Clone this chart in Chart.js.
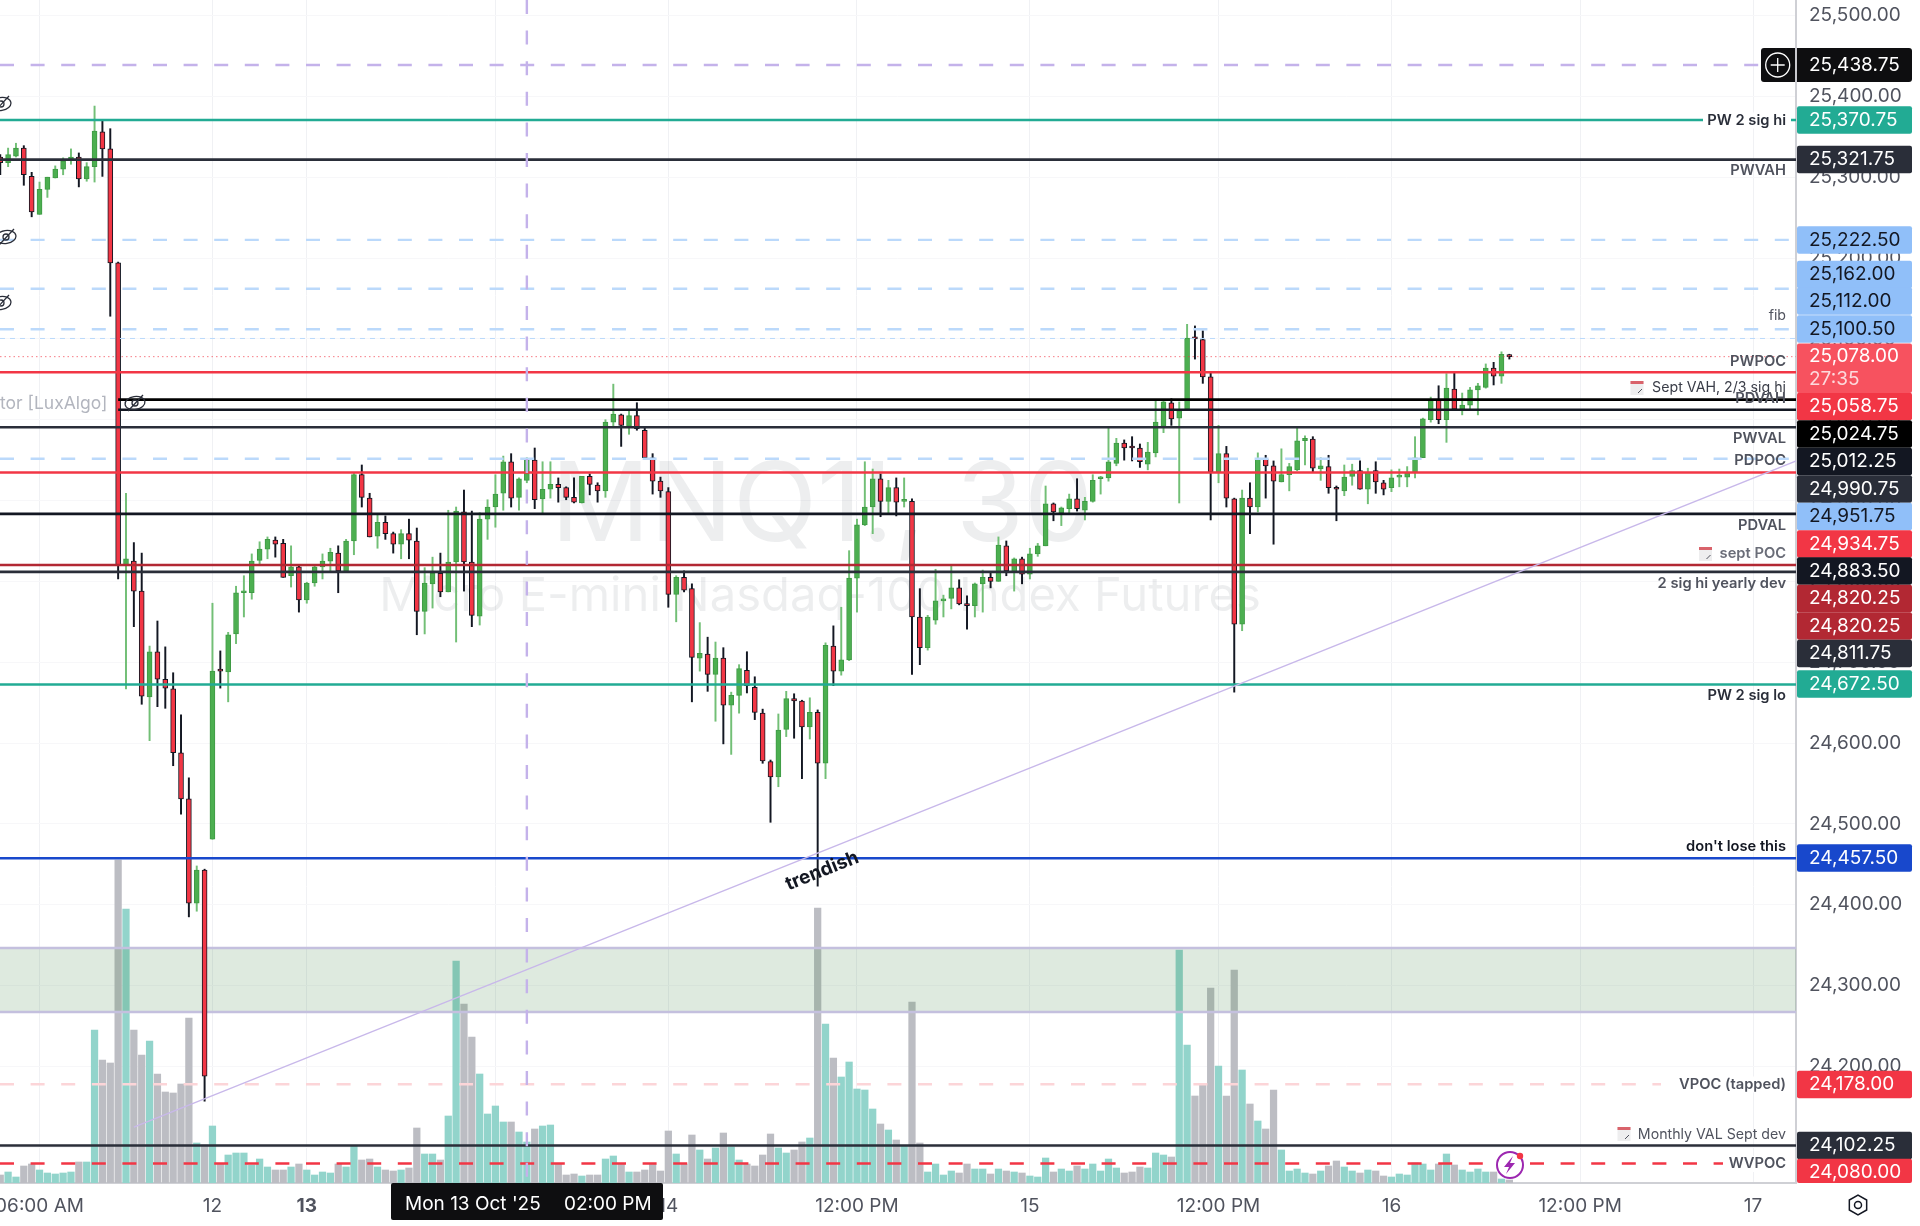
<!DOCTYPE html>
<html>
<head>
<meta charset="utf-8">
<title>MNQ1!, 30</title>
<script src="https://cdn.jsdelivr.net/npm/chart.js@4/dist/chart.umd.min.js"></script>
<style>
    html, body { margin: 0; padding: 0; background: #fff; }
    #wrap { width: 1920px; height: 1226px; }
</style>
</head>
<body>
<div id="wrap"><canvas id="myChart" width="1920" height="1226"></canvas></div>
<script>
// 30 minute bars
const highs = [
    25328,25336,25342,25339,25306,25294,25300,25314,25324,25335,
    25330,25318,25388,25370,25360,25195,24909,24848,24835,24720,
    24751,24719,24687,24635,24557,24448,24444,24773,24714,24737,
    24794,24807,24834,24849,24855,24855,24852,24844,24819,24799,
    24819,24834,24841,24844,24852,24934,24944,24909,24882,24881,
    24861,24864,24877,24866,24817,24830,24835,24888,24892,24913,
    24887,24885,24901,24932,24955,24958,24928,24953,24965,24948,
    24948,24928,24917,24928,24930,24933,24922,25000,25044,25007,
    25011,25021,24990,24958,24929,24916,24807,24813,24797,24749,
    24731,24725,24718,24663,24697,24713,24682,24642,24579,24636,
    24664,24661,24653,24656,24641,24724,24745,24768,24838,24877,
    24948,24939,24933,24925,24928,24928,24902,24791,24758,24815,
    24783,24819,24802,24782,24798,24814,24810,24855,24850,24829,
    24830,24841,24847,24918,24897,24892,24908,24927,24904,24932,
    24930,24990,24977,24975,24979,24970,24972,25024,25024,25026,
    25022,25118,25116,25110,25058,24993,24967,24903,24913,24922,
    24959,24956,24949,24964,24946,24990,24980,24979,24953,24956,
    24918,24944,24945,24949,24940,24948,24925,24938,24939,24942,
    24979,25002,25028,25042,25057,25058,25033,25040,25045,25069,
    25071,25084,25081,
];
const lows = [
    25303,25313,25325,25290,25251,25254,25275,25299,25303,25316,
    25288,25295,25294,25301,25128,24803,24667,24744,24648,24603,
    24645,24643,24572,24512,24385,24392,24157,24481,24668,24651,
    24723,24756,24778,24821,24828,24830,24805,24793,24762,24773,
    24794,24803,24813,24786,24812,24833,24892,24855,24841,24852,
    24835,24828,24828,24734,24735,24767,24781,24787,24725,24788,
    24744,24746,24852,24867,24888,24892,24888,24922,24890,24883,
    24903,24898,24901,24897,24897,24907,24898,24904,24992,24967,
    24982,24987,24951,24908,24904,24768,24750,24787,24651,24689,
    24664,24627,24599,24586,24637,24662,24629,24575,24502,24546,
    24608,24606,24556,24605,24423,24556,24671,24684,24702,24762,
    24869,24859,24880,24885,24881,24892,24685,24697,24715,24747,
    24756,24766,24771,24741,24756,24762,24792,24800,24807,24788,
    24797,24803,24831,24844,24875,24869,24885,24887,24876,24898,
    24908,24924,24943,24950,24949,24941,24938,24954,24984,24993,
    24897,25013,25075,25045,24876,24922,24892,24663,24739,24859,
    24886,24903,24846,24923,24912,24937,24944,24935,24925,24909,
    24875,24906,24919,24914,24896,24909,24907,24911,24917,24917,
    24928,24953,24997,24995,24972,25013,25006,25012,25006,25039,
    25043,25045,25075,
];
const opens = [
    25325,25318,25326,25336,25301,25254,25285,25299,25310,25321,
    25325,25298,25313,25356,25335,25194,24820,24825,24788,24657,
    24713,24679,24667,24588,24531,24402,24443,24481,24690,24688,
    24735,24786,24786,24826,24840,24851,24847,24807,24818,24777,
    24798,24818,24825,24835,24813,24850,24932,24903,24856,24873,
    24859,24846,24859,24850,24763,24797,24810,24787,24824,24886,
    24824,24757,24877,24892,24909,24948,24904,24925,24950,24902,
    24914,24920,24916,24904,24897,24930,24919,24912,24997,25006,
    24992,25005,24987,24953,24924,24911,24784,24805,24791,24705,
    24710,24685,24705,24647,24659,24690,24669,24637,24577,24558,
    24617,24655,24652,24620,24638,24575,24720,24689,24703,24804,
    24870,24892,24927,24899,24916,24899,24899,24756,24718,24752,
    24776,24779,24792,24772,24770,24797,24805,24800,24844,24812,
    24828,24809,24834,24844,24896,24885,24890,24902,24888,24899,
    24927,24928,24946,24971,24966,24965,24945,24959,24992,25021,
    25002,25013,25101,25099,25053,24935,24958,24902,24747,24903,
    24892,24951,24943,24923,24932,24938,24974,24976,24939,24942,
    24916,24912,24930,24937,24914,24937,24922,24916,24929,24929,
    24935,24953,25000,25024,25000,25038,25013,25018,25037,25040,
    25064,25054,25080,
];
const closes = [
    25318,25328,25336,25303,25257,25285,25300,25310,25320,25325,
    25298,25313,25357,25335,25194,24820,24828,24788,24658,24713,
    24679,24668,24588,24531,24402,24443,24188,24689,24689,24734,
    24786,24788,24825,24840,24852,24846,24805,24818,24777,24798,
    24818,24825,24836,24813,24850,24932,24904,24855,24873,24859,
    24846,24859,24851,24763,24798,24810,24787,24824,24887,24824,
    24758,24877,24892,24908,24948,24903,24927,24950,24901,24914,
    24920,24916,24904,24898,24930,24920,24912,24997,25007,24993,
    25005,24989,24953,24924,24912,24784,24805,24789,24706,24711,
    24685,24705,24647,24659,24692,24671,24638,24578,24558,24616,
    24655,24652,24620,24638,24575,24721,24689,24703,24804,24870,
    24892,24927,24899,24916,24898,24901,24756,24718,24756,24776,
    24777,24792,24772,24770,24797,24805,24800,24845,24813,24828,
    24809,24834,24844,24896,24886,24891,24902,24890,24899,24925,
    24928,24948,24971,24965,24965,24948,24960,24997,25022,25001,
    25011,25101,25100,25053,24935,24958,24903,24747,24903,24892,
    24951,24943,24924,24932,24942,24974,24977,24940,24943,24916,
    24914,24929,24937,24914,24935,24923,24914,24928,24930,24934,
    24953,25001,25024,25000,25039,25013,25018,25037,25042,25064,
    25054,25081,25078,
];
const volumes = [
    8,11,6,17,19,13,10,9,10,11,
    21,21,153,123,120,323,274,153,128,142,
    109,91,90,99,165,40,38,57,19,28,
    30,30,18,24,16,13,13,16,19,13,
    8,11,10,19,16,37,23,24,16,13,
    12,13,15,55,29,29,23,67,222,179,
    146,109,69,77,61,61,51,41,54,57,
    58,19,8,9,7,8,8,24,27,19,
    11,11,13,19,12,52,29,19,48,33,
    24,35,50,36,23,19,17,28,49,35,
    30,33,41,45,275,159,125,106,121,94,
    93,74,59,53,43,37,181,40,11,19,
    8,12,10,19,14,14,9,14,12,11,
    10,7,6,25,11,14,12,17,14,19,
    12,24,15,10,11,16,15,30,28,26,
    233,138,87,99,195,117,87,213,113,79,
    62,54,93,33,12,14,10,9,12,17,
    22,16,12,10,13,12,7,6,9,8,
    20,19,13,19,29,18,13,11,14,11,
    11,4,3,
];
const volumeAxisMax = 1183;

// time axis, bar index of each labelled gridline
const xTickIndex = [5, 27, 39, 63, 85, 109, 131, 155, 177, 201, 223];
const xTickLabels = ["06:00 AM", "12", "13", "12:00 PM", "14", "12:00 PM", "15", "12:00 PM", "16", "12:00 PM", "17"];
const crossIndex = 67;
const crossPrice = 25438.75;

// price levels
const levelValues = [25370.75, 25321.75, 25222.5, 25162, 25112, 25100.5, 25078, 25058.75, 25024.75, 25012.25, 24990.75, 24951.75, 24934.75, 24883.5, 24820.25, 24811.75, 24672.5, 24457.5, 24178, 24102.25, 24080];
const levelKinds = ["teal", "slate", "fibA", "fibA", "fibA", "fibB", "last", "red", "black", "ink", "slate", "fibA", "red", "ink", "wine", "slate", "teal", "blue", "pink", "slate", "redDash"];
// these two only start at the big sell-off bar
const lateLevels = [25024.75, 25012.25];
const lateStart = 15;
const zoneTop = 24346.5;
const zoneBottom = 24267.4;
const trendFrom = [17, 24125];
const trendTo = [228.5, 24949];

const priceMin = 24055.8;
const priceMax = 25519.2;
const xMin = -0.03;
const xMax = 228.47;

const kinds = {
    teal: { color: "#22ab94", width: 2.6 },
    slate: { color: "#2a2e39", width: 2.6 },
    ink: { color: "#131722", width: 2.6 },
    black: { color: "#000000", width: 2.8 },
    red: { color: "#f23645", width: 2.6 },
    wine: { color: "#b22833", width: 2.6 },
    blue: { color: "#1848cc", width: 2.6 },
    fibA: { color: "#bbd9fb", width: 2.4, dash: [14, 16.6] },
    fibB: { color: "#bbd9fb", width: 1, dash: [5, 5] },
    last: { color: "rgba(242,54,69,0.65)", width: 1, dash: [1.5, 3] },
    pink: { color: "#fcd5d8", width: 2.4, dash: [14, 16.6] },
    redDash: { color: "#f23645", width: 2.4, dash: [14, 16.6] },
};

const UI_FONT = "Inter, 'Liberation Sans', sans-serif";
const barIndex = closes.map((c, i) => i);
const isUp = closes.map((c, i) => c >= opens[i]);

function lineSet(points, color, width, dash, order, extra) {
    return Object.assign({
        type: "line",
        data: points,
        borderColor: color,
        borderWidth: width,
        borderDash: dash || [],
        pointRadius: 0,
        fill: false,
        tension: 0,
        order: order,
    }, extra || {});
}

const datasets = [];

// volume pane
datasets.push({
    yAxisID: "vol",
    data: barIndex.map((i) => ({ x: i, y: volumes[i] })),
    backgroundColor: isUp.map((u) => (u ? "#92d4cb" : "#bcbdc3")),
    barThickness: 6.6,
    grouped: false,
    order: 20,
});

// green zone with its two edges
datasets.push(lineSet([{ x: xMin, y: zoneTop }, { x: xMax, y: zoneTop }], "#c4c0de", 2.4, null, 19, {
    fill: "+1",
    backgroundColor: "rgba(70,140,80,0.18)",
}));
datasets.push(lineSet([{ x: xMin, y: zoneBottom }, { x: xMax, y: zoneBottom }], "#c4c0de", 2.4, null, 18));

// candles: wick under body
datasets.push({
    data: barIndex.map((i) => ({ x: i, y: [lows[i], highs[i]] })),
    backgroundColor: isUp.map((u) => (u ? "#72bf76" : "#131722")),
    barThickness: 1.3,
    grouped: false,
    order: 8,
});
datasets.push({
    data: barIndex.map((i) => ({ x: i, y: [opens[i], closes[i]] })),
    backgroundColor: isUp.map((u) => (u ? "#4caf50" : "#f23645")),
    borderColor: isUp.map((u) => (u ? "#3f9a45" : "#131722")),
    borderWidth: 1,
    borderSkipped: false,
    barThickness: 5,
    minBarLength: 2,
    grouped: false,
    order: 7,
});

// levels sit on top of the candles
levelValues.forEach((v, n) => {
    const k = kinds[levelKinds[n]];
    const from = lateLevels.includes(v) ? lateStart : xMin;
    datasets.push(lineSet([{ x: from, y: v }, { x: xMax, y: v }], k.color, k.width, k.dash, 3));
});
datasets.push(lineSet([{ x: trendFrom[0], y: trendFrom[1] }, { x: trendTo[0], y: trendTo[1] }], "#c8b8ea", 1.3, null, 2));
datasets.push(lineSet([{ x: xMin, y: crossPrice }, { x: xMax, y: crossPrice }], "#c4b2ea", 2.4, [14, 16.6], 1));
datasets.push(lineSet([{ x: crossIndex, y: priceMax }, { x: crossIndex, y: priceMin }], "#c4b2ea", 2.4, [14, 16.6], 1));

// texts at the right end of the levels
const notes = [
    { text: "PW 2 sig hi", y: 120.5, weight: 600, color: "#2a2e39", clear: 1703 },
    { text: "PWVAH", y: 171, weight: 600, color: "#50535e" },
    { text: "fib", y: 316, weight: 400, color: "#50535e" },
    { text: "PWPOC", y: 361.5, weight: 600, color: "#50535e" },
    { text: "Sept VAH, 2/3 sig hi", y: 388, weight: 400, color: "#3a3d48" },
    { text: "PDVAH", y: 399, weight: 600, color: "#50535e" },
    { text: "PWVAL", y: 439, weight: 600, color: "#50535e" },
    { text: "PDPOC", y: 461, weight: 600, color: "#50535e" },
    { text: "PDVAL", y: 525.5, weight: 600, color: "#50535e" },
    { text: "sept POC", y: 554, weight: 600, color: "#6a6d78" },
    { text: "2 sig hi yearly dev", y: 584, weight: 600, color: "#50535e" },
    { text: "PW 2 sig lo", y: 696, weight: 600, color: "#2a2e39" },
    { text: "don't lose this", y: 847, weight: 600, color: "#131722" },
    { text: "VPOC (tapped)", y: 1084.5, weight: 600, color: "#50535e", clear: 1661 },
    { text: "Monthly VAL Sept dev", y: 1135, weight: 400, color: "#50535e" },
    { text: "WVPOC", y: 1164, weight: 600, color: "#50535e", clear: 1723 },
];

// price tags on the axis, stacked so they do not collide
const tags = [
    { text: "25,370.75", y: 120, fill: "#22ab94", ink: "#ffffff" },
    { text: "25,321.75", y: 159.5, fill: "#2a2e39", ink: "#ffffff" },
    { text: "25,222.50", y: 240, fill: "#90bff9", ink: "#131722" },
    { text: "25,162.00", y: 274.5, fill: "#90bff9", ink: "#131722" },
    { text: "25,112.00", y: 301, fill: "#90bff9", ink: "#131722" },
    { text: "25,100.50", y: 329, fill: "#90bff9", ink: "#131722" },
    { text: "25,058.75", y: 406.5, fill: "#f23645", ink: "#ffffff" },
    { text: "25,024.75", y: 434, fill: "#000000", ink: "#ffffff" },
    { text: "25,012.25", y: 461.5, fill: "#131722", ink: "#ffffff" },
    { text: "24,990.75", y: 489, fill: "#2a2e39", ink: "#ffffff" },
    { text: "24,951.75", y: 516.5, fill: "#90bff9", ink: "#131722" },
    { text: "24,934.75", y: 544, fill: "#f23645", ink: "#ffffff" },
    { text: "24,883.50", y: 571, fill: "#131722", ink: "#ffffff" },
    { text: "24,820.25", y: 598.5, fill: "#b22833", ink: "#ffffff" },
    { text: "24,820.25", y: 626, fill: "#b22833", ink: "#ffffff" },
    { text: "24,811.75", y: 653.5, fill: "#2a2e39", ink: "#ffffff" },
    { text: "24,672.50", y: 684, fill: "#22ab94", ink: "#ffffff" },
    { text: "24,457.50", y: 858, fill: "#1848cc", ink: "#ffffff" },
    { text: "24,178.00", y: 1084.5, fill: "#f23645", ink: "#ffffff" },
    { text: "24,102.25", y: 1145.5, fill: "#2a2e39", ink: "#ffffff" },
    { text: "24,080.00", y: 1172.5, fill: "#f23645", ink: "#ffffff" },
];

function roundBox(ctx, x, y, w, h, r, fill) {
    ctx.beginPath();
    ctx.roundRect(x, y, w, h, r);
    ctx.fillStyle = fill;
    ctx.fill();
}

function hiddenEye(ctx, x, y) {
    ctx.save();
    ctx.strokeStyle = "#2a2e39";
    ctx.lineWidth = 1.3;
    ctx.beginPath();
    ctx.ellipse(x, y, 10, 6.5, -0.15, 0, Math.PI * 2);
    ctx.stroke();
    ctx.beginPath();
    ctx.arc(x, y, 3, 0, Math.PI * 2);
    ctx.stroke();
    ctx.beginPath();
    ctx.moveTo(x - 7, y + 8);
    ctx.lineTo(x + 8, y - 8);
    ctx.stroke();
    ctx.restore();
}

function calendar(ctx, x, y) {
    ctx.fillStyle = "#eeeeef";
    ctx.fillRect(x - 6.5, y - 7, 13, 14);
    ctx.fillStyle = "#d9636b";
    ctx.fillRect(x - 6.5, y - 7, 13, 3);
    ctx.strokeStyle = "#50535e";
    ctx.lineWidth = 1;
    ctx.beginPath();
    ctx.moveTo(x + 1, y + 5);
    ctx.lineTo(x + 5, y + 1);
    ctx.stroke();
}

const overlay = {
    id: "overlay",
    beforeDatasetsDraw(chart) {
        const ctx = chart.ctx;
        ctx.save();
        ctx.fillStyle = "rgba(19,23,34,0.075)";
        ctx.textAlign = "center";
        ctx.textBaseline = "middle";
        ctx.font = "400 110px " + UI_FONT;
        ctx.fillText("MNQ1!, 30", 822, 508);
        ctx.font = "400 47.2px " + UI_FONT;
        ctx.fillText("Micro E-mini Nasdaq-100 Index Futures", 820, 597);
        ctx.restore();
    },
    afterDraw(chart) {
        const ctx = chart.ctx;
        ctx.save();

        // indicator name and the hidden-study eyes on the left
        ctx.textBaseline = "middle";
        ctx.textAlign = "left";
        ctx.font = "400 17.5px " + UI_FONT;
        ctx.fillStyle = "#b2b5be";
        ctx.fillText("tor [LuxAlgo]", 0, 404);
        hiddenEye(ctx, 1, 104);
        hiddenEye(ctx, 6, 237);
        hiddenEye(ctx, 1, 303);
        hiddenEye(ctx, 135, 403);

        // level notes
        ctx.textAlign = "right";
        notes.forEach((n) => {
            if (n.clear) {
                ctx.fillStyle = "#ffffff";
                ctx.fillRect(n.clear, n.y - 8, 1791 - n.clear, 16);
            }
            ctx.font = n.weight + (n.weight === 600 ? " 14.7px " : " 14.2px ") + UI_FONT;
            ctx.fillStyle = n.color;
            ctx.fillText(n.text, 1786, n.y);
        });
        calendar(ctx, 1637, 388);
        calendar(ctx, 1705.5, 554);
        calendar(ctx, 1624, 1134);

        // rotated trendline note
        ctx.save();
        ctx.translate(822, 871);
        ctx.rotate(-0.38);
        ctx.textAlign = "center";
        ctx.font = "700 19px " + UI_FONT;
        ctx.fillStyle = "#131722";
        ctx.fillText("trendish", 0, 0);
        ctx.restore();

        // axis tags
        ctx.textAlign = "left";
        ctx.font = "400 19px " + UI_FONT;
        tags.forEach((t) => {
            const top = t.y - 13.75;
            const h = Math.min(27.5, 1183 - top);
            roundBox(ctx, 1797, top, 115, h, 2, t.fill);
            ctx.fillStyle = t.ink;
            ctx.fillText(t.text, 1809, t.y);
        });

        // current price tag with countdown
        roundBox(ctx, 1797, 343.5, 115, 49.5, 2, "#f7525f");
        ctx.fillStyle = "#ffffff";
        ctx.fillText("25,078.00", 1809, 356);
        ctx.fillStyle = "#fcd9dc";
        ctx.fillText("27:35", 1809, 379);

        // crosshair tag with the plus button
        roundBox(ctx, 1761, 48, 151, 34, 3, "#0e0e10");
        ctx.fillStyle = "#ffffff";
        ctx.fillText("25,438.75", 1809, 65);
        ctx.strokeStyle = "#ffffff";
        ctx.lineWidth = 1.3;
        ctx.beginPath();
        ctx.arc(1777.7, 65, 12, 0, Math.PI * 2);
        ctx.moveTo(1777.7, 58);
        ctx.lineTo(1777.7, 72);
        ctx.moveTo(1770.7, 65);
        ctx.lineTo(1784.7, 65);
        ctx.stroke();
        ctx.strokeStyle = "#c9c9ce";
        ctx.lineWidth = 2;
        ctx.beginPath();
        ctx.moveTo(1796, 48);
        ctx.lineTo(1796, 82);
        ctx.stroke();

        // date tooltip on the time axis
        roundBox(ctx, 391, 1183, 272, 37, 2, "#0e0e10");
        ctx.fillStyle = "#ffffff";
        ctx.fillText("Mon 13 Oct '25", 405, 1204);
        ctx.fillText("02:00 PM", 564, 1204);

        // alert badge
        ctx.fillStyle = "#ffffff";
        ctx.strokeStyle = "#9c27b0";
        ctx.lineWidth = 2;
        ctx.beginPath();
        ctx.arc(1510, 1165, 13, 0, Math.PI * 2);
        ctx.fill();
        ctx.stroke();
        ctx.fillStyle = "#9c27b0";
        ctx.beginPath();
        ctx.moveTo(1513, 1156);
        ctx.lineTo(1504, 1167);
        ctx.lineTo(1509, 1167);
        ctx.lineTo(1506, 1174);
        ctx.lineTo(1515, 1163);
        ctx.lineTo(1510, 1163);
        ctx.closePath();
        ctx.fill();
        ctx.fillStyle = "#f23645";
        ctx.beginPath();
        ctx.arc(1520, 1156, 3.2, 0, Math.PI * 2);
        ctx.fill();

        // settings hexagon
        ctx.strokeStyle = "#131722";
        ctx.lineWidth = 1.5;
        ctx.beginPath();
        for (let a = 0; a < 6; a++) {
            const ang = Math.PI / 6 + (a * Math.PI) / 3;
            ctx.lineTo(1858 + 10 * Math.cos(ang), 1205 + 10 * Math.sin(ang));
        }
        ctx.closePath();
        ctx.moveTo(1861.5, 1205);
        ctx.arc(1858, 1205, 3.5, 0, Math.PI * 2);
        ctx.stroke();

        ctx.restore();
    },
};

const chart = new Chart(document.getElementById("myChart").getContext("2d"), {
    type: "bar",
    data: { datasets: datasets },
    plugins: [overlay],
    options: {
        responsive: false,
        animation: false,
        layout: { padding: 0 },
        plugins: {
            legend: { display: false },
            tooltip: { enabled: false },
            title: { display: false },
        },
        scales: {
            x: {
                type: "linear",
                min: xMin,
                max: xMax,
                offset: false,
                grid: { offset: false, color: "#f0f1f4", lineWidth: 1, drawTicks: false },
                border: { color: "#cfd0d5", width: 2 },
                afterBuildTicks: (scale) => {
                    scale.ticks = xTickIndex.map((v) => ({ value: v }));
                },
                afterFit: (scale) => {
                    scale.height = 43;
                    scale.paddingLeft = 0;
                    scale.paddingRight = 0;
                },
                ticks: {
                    autoSkip: false,
                    maxRotation: 0,
                    padding: 12,
                    color: "#50535e",
                    font: (ctx) => ({
                        family: UI_FONT,
                        size: 19,
                        weight: xTickLabels[ctx.index] === "13" ? "700" : "400",
                    }),
                    callback: (value, index) => xTickLabels[index],
                },
            },
            y: {
                position: "right",
                min: priceMin,
                max: priceMax,
                grid: { color: "#f7f7f9", lineWidth: 1, drawTicks: false },
                border: { color: "#cfd0d5", width: 2 },
                afterFit: (scale) => {
                    scale.width = 124;
                    scale.paddingTop = 0;
                    scale.paddingBottom = 0;
                },
                ticks: {
                    stepSize: 100,
                    includeBounds: false,
                    padding: 13,
                    color: "#50535e",
                    font: { family: UI_FONT, size: 19 },
                    callback: (value) =>
                        value.toLocaleString("en-US", { minimumFractionDigits: 2, maximumFractionDigits: 2 }),
                },
            },
            vol: {
                display: false,
                min: 0,
                max: volumeAxisMax,
            },
        },
    },
});
</script>
</body>
</html>
